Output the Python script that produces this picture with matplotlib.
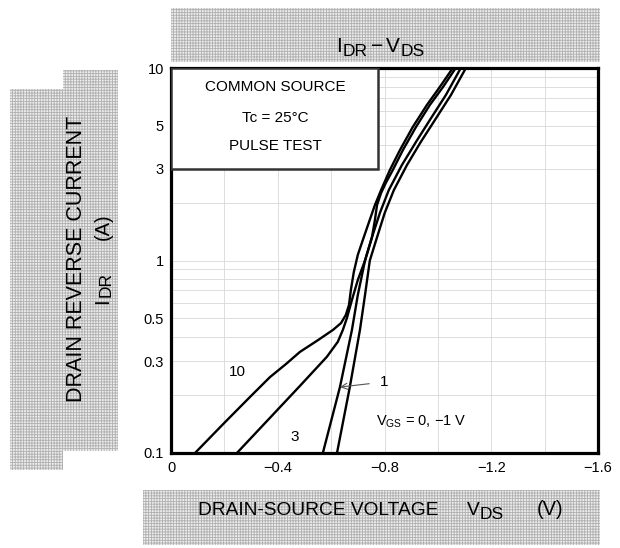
import matplotlib
matplotlib.use("Agg")
import matplotlib.pyplot as plt
from matplotlib.patches import Rectangle
from matplotlib.ticker import FixedLocator, NullFormatter

plt.rcParams['font.family'] = ['Liberation Sans', 'DejaVu Sans']
plt.rcParams['mathtext.fontset'] = 'custom'
plt.rcParams['mathtext.rm'] = 'Liberation Sans'
plt.rcParams['mathtext.it'] = 'Liberation Sans'
plt.rcParams['hatch.linewidth'] = 0.6

# curves: V_DS (V) and I_DR (A)
vgs10_v = [-0.090, -0.199, -0.300, -0.371, -0.431, -0.483, -0.551, -0.607, -0.637, -0.655,
           -0.667, -0.674, -0.685, -0.700, -0.719, -0.742, -0.764, -0.787, -0.820, -0.858,
           -0.906, -0.959, -1.007, -1.056]
vgs10_i = [0.1, 0.143, 0.198, 0.248, 0.290, 0.335, 0.386, 0.436, 0.473, 0.521,
           0.588, 0.703, 0.871, 1.07, 1.28, 1.585, 1.94, 2.32, 2.95, 3.75,
           4.94, 6.43, 7.96, 10]

vgs3_v = [-0.247, -0.483, -0.584, -0.625, -0.644, -0.659, -0.678, -0.700, -0.727,
          -0.753, -0.764, -0.772, -0.787, -0.805, -0.831, -0.869, -0.918, -0.970,
          -1.019, -1.067]
vgs3_i = [0.1, 0.223, 0.316, 0.378, 0.436, 0.502, 0.624, 0.792, 1.0,
          1.32, 1.62, 1.94, 2.24, 2.53, 2.95, 3.75, 4.94, 6.43,
          7.96, 10]

vgs1_v = [-0.569, -0.633, -0.678, -0.700, -0.727, -0.753, -0.783, -0.816, -0.865,
          -0.918, -0.970, -1.030, -1.086]
vgs1_i = [0.1, 0.220, 0.436, 0.662, 1.0, 1.32, 1.77, 2.32, 3.13,
          4.13, 5.37, 7.24, 10]

vgs0_v = [-0.622, -0.670, -0.708, -0.727, -0.745, -0.772, -0.801, -0.835, -0.884,
          -0.936, -0.989, -1.049, -1.105]
vgs0_i = [0.1, 0.220, 0.436, 0.662, 1.0, 1.32, 1.77, 2.32, 3.13,
          4.13, 5.37, 7.24, 10]

x_ticks = [0, -0.4, -0.8, -1.2, -1.6]
x_labels = ['0', '\u22120.4', '\u22120.8', '\u22121.2', '\u22121.6']
x_minor = [-0.2, -0.6, -1.0, -1.4]
y_ticks = [0.1, 0.3, 0.5, 1, 3, 5, 10]
y_labels = ['0.1', '0.3', '0.5', '1', '3', '5', '10']
y_minor = [0.2, 0.4, 0.6, 0.7, 0.8, 0.9, 2, 4, 6, 7, 8, 9]

W, H = 620, 548
fig = plt.figure(figsize=(W / 100, H / 100), dpi=100)


def band(x0, y0, x1, y1):
    # hatched gray background, given in pixels from the top left
    r = Rectangle((x0 / W, 1 - y1 / H), (x1 - x0) / W, (y1 - y0) / H,
                  transform=fig.transFigure, facecolor='#ececec',
                  edgecolor='#b0b0b0', hatch='++++++', linewidth=0, zorder=0)
    fig.add_artist(r)


def ptext(x, y, s, size, **kw):
    # text placed by pixel position from the top left
    fig.text(x / W, 1 - y / H, s, fontsize=size, **kw)


band(171, 8, 600, 62)
band(10, 89, 63, 470)
band(63, 70, 118, 451)
band(143, 490, 600, 545)

ax = fig.add_axes([171 / W, 95 / H, 427 / W, 385 / H])
ax.set_yscale('log')
ax.set_xlim(0, -1.6)
ax.set_ylim(0.1, 10)

ax.xaxis.set_major_locator(FixedLocator(x_ticks))
ax.set_xticklabels(x_labels)
ax.xaxis.set_minor_locator(FixedLocator(x_minor))
ax.yaxis.set_major_locator(FixedLocator(y_ticks))
ax.set_yticklabels(y_labels)
ax.yaxis.set_minor_locator(FixedLocator(y_minor))
ax.yaxis.set_minor_formatter(NullFormatter())
ax.tick_params(which='both', length=0, labelsize=10.5)
ax.tick_params(axis='x', pad=6)
ax.tick_params(axis='y', pad=5)
ax.grid(which='both', color='#d8d8d8', linewidth=0.6)
ax.set_axisbelow(True)
for s in ax.spines.values():
    s.set_linewidth(2.3)

for v, i in [(vgs10_v, vgs10_i), (vgs3_v, vgs3_i), (vgs1_v, vgs1_i), (vgs0_v, vgs0_i)]:
    ax.plot(v, i, color='black', linewidth=1.7, solid_joinstyle='round', zorder=2)

ax.add_patch(Rectangle((0, 3), -0.775, 7, facecolor='white', edgecolor='#333333',
                       linewidth=1.8, zorder=3))
ax.text(-0.39, 7.96, 'COMMON SOURCE', ha='center', va='center', fontsize=11, zorder=4)
ax.text(-0.39, 5.49, 'Tc = 25\u00b0C', ha='center', va='center', fontsize=11, zorder=4)
ax.text(-0.39, 3.94, 'PULSE TEST', ha='center', va='center', fontsize=11, zorder=4)

ax.text(-0.247, 0.264, '10', ha='center', va='center', fontsize=11)
ax.text(-0.464, 0.121, '3', ha='center', va='center', fontsize=11)
ax.annotate('1', xy=(-0.633, 0.220), xytext=(-0.80, 0.234), ha='center', va='center',
            fontsize=11, arrowprops=dict(arrowstyle='->', color='#555555', lw=0.8,
                                         shrinkA=6, shrinkB=0))
ax.text(-0.768, 0.145, 'V$_{\\rm GS}$ = 0, \u22121 V', ha='left', va='center', fontsize=10.5)

# title  I_DR - V_DS
ptext(336, 52, 'I', 15, va='baseline')
ptext(343, 56, 'DR', 12.5, va='baseline')
ptext(371, 52, '\u2212', 15, va='baseline')
ptext(386, 52, 'V', 15, va='baseline')
ptext(401, 56, 'DS', 12.5, va='baseline')

# x label
ptext(198, 515, 'DRAIN-SOURCE VOLTAGE', 13.8, va='baseline')
ptext(467, 515, 'V', 13.8, va='baseline')
ptext(480, 519, 'DS', 12.5, va='baseline')
ptext(537, 515, '(V)', 14.5, va='baseline')

# y label
ptext(77, 259, 'DRAIN REVERSE CURRENT', 15.5, ha='center', va='center', rotation=90)
ptext(103, 304, 'I', 14.5, ha='center', va='bottom', rotation=90)
ptext(106, 297, 'DR', 12.5, ha='center', va='bottom', rotation=90)
ptext(103, 240, '(A)', 14.5, ha='center', va='bottom', rotation=90)

fig.savefig('out.png', dpi=100)
